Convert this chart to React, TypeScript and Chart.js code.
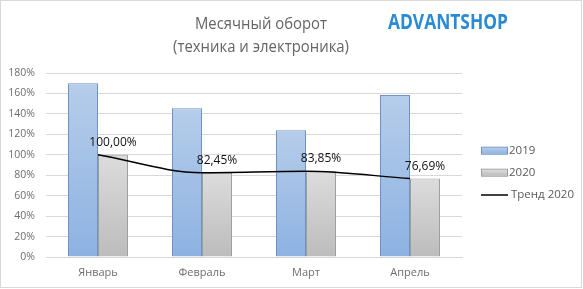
import React, { useEffect, useRef } from "react";
import { Chart, registerables } from "chart.js";

Chart.register(...registerables);

const categories = ["Январь", "Февраль", "Март", "Апрель"];
const sales2019 = [170, 145.5, 124, 158.5];
const sales2020 = [100, 82.45, 83.85, 76.69];
const trend2020 = [100, 82.45, 83.85, 76.69];
const seriesNames = ["2019", "2020", "Тренд 2020"];
const titleLines = ["Месячный оборот", "(техника и электроника)"];
const logoText = "ADVANTSHOP";
const yMin = 0;
const yMax = 180;
const yStep = 20;

const FONT = "'Open Sans', 'DejaVu Sans', sans-serif";

const blueTop = "#b6cdea";
const blueBottom = "#8db2e2";
const blueBorder = "#6f93c2";
const grayTop = "#dcdcdc";
const grayBottom = "#bcbcbc";
const grayBorder = "#9f9f9f";

function barGradient(ctx: any, top: string, bottom: string) {
  const chart = ctx.chart;
  const { chartArea, scales } = chart;
  if (!chartArea) return top;
  const v = ctx.raw ?? 0;
  const y0 = scales.y.getPixelForValue(v);
  const y1 = scales.y.getPixelForValue(0);
  const g = chart.ctx.createLinearGradient(0, y0, 0, y1);
  g.addColorStop(0, top);
  g.addColorStop(1, bottom);
  return g;
}

const fmt = (v: number) => v.toFixed(2).replace(".", ",") + "%";

const decorPlugin = {
  id: "decor",
  beforeDraw(chart: any) {
    const c = chart.ctx;
    c.save();
    c.fillStyle = "#ffffff";
    c.fillRect(0, 0, chart.width, chart.height);
    c.restore();
  },
  afterDatasetsDraw(chart: any) {
    const c = chart.ctx;
    c.save();
    // data labels above 2020 bars
    const meta = chart.getDatasetMeta(1);
    c.font = `12px ${FONT}`;
    c.fillStyle = "#111111";
    c.textAlign = "center";
    c.textBaseline = "middle";
    meta.data.forEach((el: any, i: number) => {
      c.fillText(fmt(sales2020[i]), el.x, el.y - 12.5);
    });
    c.restore();
  },
  afterDraw(chart: any) {
    const c = chart.ctx;
    c.save();
    // title
    c.fillStyle = "#656565";
    c.font = `17px ${FONT}`;
    c.textAlign = "center";
    c.textBaseline = "alphabetic";
    c.fillText(titleLines[0], 261, 28.5, 132);
    c.fillText(titleLines[1], 261, 52, 176);
    // logo
    c.fillStyle = "#2b8ad4";
    c.font = `bold 21px ${FONT}`;
    c.textAlign = "left";
    c.fillText(logoText, 388, 29, 120);
    // legend
    const ys = [150.7, 172.7, 195];
    c.font = `11.5px ${FONT}`;
    c.textBaseline = "middle";
    for (let i = 0; i < 3; i++) {
      const y = ys[i];
      if (i < 2) {
        const g = c.createLinearGradient(0, y - 3, 0, y + 3);
        g.addColorStop(0, i === 0 ? blueTop : grayTop);
        g.addColorStop(1, i === 0 ? blueBottom : grayBottom);
        c.fillStyle = g;
        c.fillRect(481, y - 3, 26, 6);
        c.strokeStyle = i === 0 ? blueBorder : grayBorder;
        c.lineWidth = 1;
        c.strokeRect(481.5, y - 3.5, 26, 7);
        c.fillStyle = "#595959";
        c.fillText(seriesNames[i], 509, y);
      } else {
        c.strokeStyle = "#000000";
        c.lineWidth = 1.5;
        c.beginPath();
        c.moveTo(481, y);
        c.moveTo(481, y);
        c.lineTo(508, y);
        c.stroke();
        c.fillStyle = "#595959";
        c.fillText(seriesNames[i], 511, y);
      }
    }
    // outer border
    c.strokeStyle = "#d9d9d9";
    c.lineWidth = 1;
    c.strokeRect(0.5, 0.5, 581, 287);
    c.restore();
  },
};

export default function App() {
  const ref = useRef<HTMLCanvasElement | null>(null);
  useEffect(() => {
    document.body.style.margin = "0";
    const canvas = ref.current;
    if (!canvas) return;
    const chart = new Chart(canvas, {
      type: "bar",
      data: {
        labels: categories,
        datasets: [
          {
            type: "bar",
            label: seriesNames[0],
            data: sales2019,
            backgroundColor: (ctx: any) => barGradient(ctx, blueTop, blueBottom),
            borderColor: blueBorder,
            borderWidth: 1,
            barPercentage: 1,
            categoryPercentage: 60 / 104,
            order: 2,
          },
          {
            type: "bar",
            label: seriesNames[1],
            data: sales2020,
            backgroundColor: (ctx: any) => barGradient(ctx, grayTop, grayBottom),
            borderColor: grayBorder,
            borderWidth: 1,
            barPercentage: 1,
            categoryPercentage: 60 / 104,
            order: 2,
          },
          {
            type: "line",
            label: seriesNames[2],
            data: trend2020,
            borderColor: "#000000",
            borderWidth: 1.5,
            pointRadius: 0,
            cubicInterpolationMode: "monotone",
            fill: false,
            order: 1,
          } as any,
        ],
      },
      options: {
        responsive: false,
        animation: false,
        devicePixelRatio: 1,
        layout: { padding: { left: 8, right: 121, top: 73, bottom: 10 } },
        plugins: {
          legend: { display: false },
          title: { display: false },
          tooltip: { enabled: false },
        },
        scales: {
          x: {
            grid: { display: false, drawTicks: false },
            border: { display: true, color: "#d9d9d9" },
            ticks: {
              color: "#6e6e6e",
              font: { family: FONT, size: 11 },
              padding: 9,
            },
            afterFit: (s: any) => {
              s.height = 22;
            },
          },
          y: {
            min: yMin,
            max: yMax,
            grid: { color: "#d9d9d9", drawTicks: false },
            border: { display: false },
            ticks: {
              stepSize: yStep,
              color: "#6e6e6e",
              font: { family: FONT, size: 10.5 },
              padding: 11,
              callback: (v: any) => `${v}%`,
            },
            afterFit: (s: any) => {
              s.width = 38;
            },
          },
        },
      },
      plugins: [decorPlugin],
    });
    return () => chart.destroy();
  }, []);
  return (
    <div style={{ width: 583, height: 289 }}>
      <canvas ref={ref} width={583} height={289} style={{ display: "block" }} />
    </div>
  );
}
